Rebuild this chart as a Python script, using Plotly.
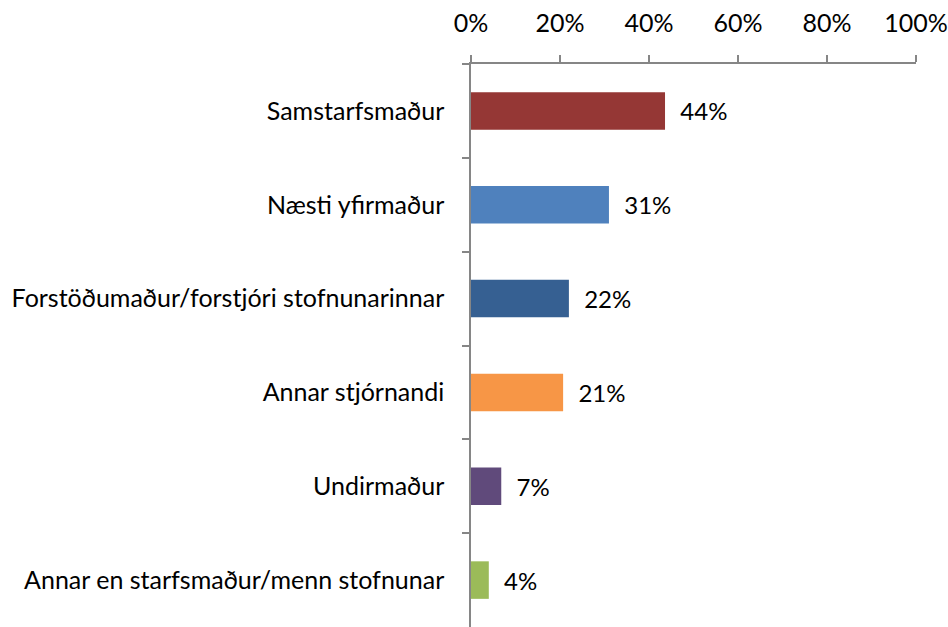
import plotly.graph_objects as go

categories = [
    "Samstarfsmaður",
    "Næsti yfirmaður",
    "Forstöðumaður/forstjóri stofnunarinnar",
    "Annar stjórnandi",
    "Undirmaður",
    "Annar en starfsmaður/menn stofnunar",
]
values = [43.6, 31.0, 22.0, 20.7, 6.8, 4.0]
labels = ["44%", "31%", "22%", "21%", "7%", "4%"]
colors = ["#953735", "#4F81BD", "#366092", "#F79646", "#604A7B", "#9BBB59"]

tick_vals = [0, 20, 40, 60, 80, 100]
tick_text = ["0%", "20%", "40%", "60%", "80%", "100%"]

fig = go.Figure(go.Bar(
    x=values,
    y=categories,
    orientation="h",
    marker=dict(color=colors, line=dict(width=0)),
    text=["  " + t for t in labels],
    textposition="outside",
    textfont=dict(size=24, color="black"),
    cliponaxis=False,
    showlegend=False,
))

fig.update_layout(
    width=948, height=627,
    margin=dict(l=471, r=32, t=64, b=0, autoexpand=False),
    paper_bgcolor="white", plot_bgcolor="white",
    font=dict(family="Lato, Open Sans, sans-serif", size=24, color="black"),
    bargap=0.6,
    uniformtext=dict(minsize=24, mode="show"),
)
fig.update_xaxes(
    side="top", range=[0, 100], tickvals=tick_vals, ticktext=tick_text,
    tickfont=dict(size=25),
    showgrid=False, zeroline=False, showline=True, linecolor="#868686", linewidth=1.5,
    ticks="outside", ticklen=7, tickcolor="#868686", tickwidth=1.5,
    ticklabelstandoff=13, automargin=False,
)
fig.update_yaxes(
    range=[5.5, -0.5], tickfont=dict(size=25), showgrid=False, zeroline=False,
    showline=True, linecolor="#868686", linewidth=1.5,
    ticks="outside", tickson="boundaries", ticklen=7, tickcolor="#868686", tickwidth=1.5,
    ticklabelstandoff=20, automargin=False,
)

# page body has a default margin; drop it so the figure sits at the corner
fig.write_html("out.html", config={"displayModeBar": False},
               post_script="document.body.style.margin='0';")
